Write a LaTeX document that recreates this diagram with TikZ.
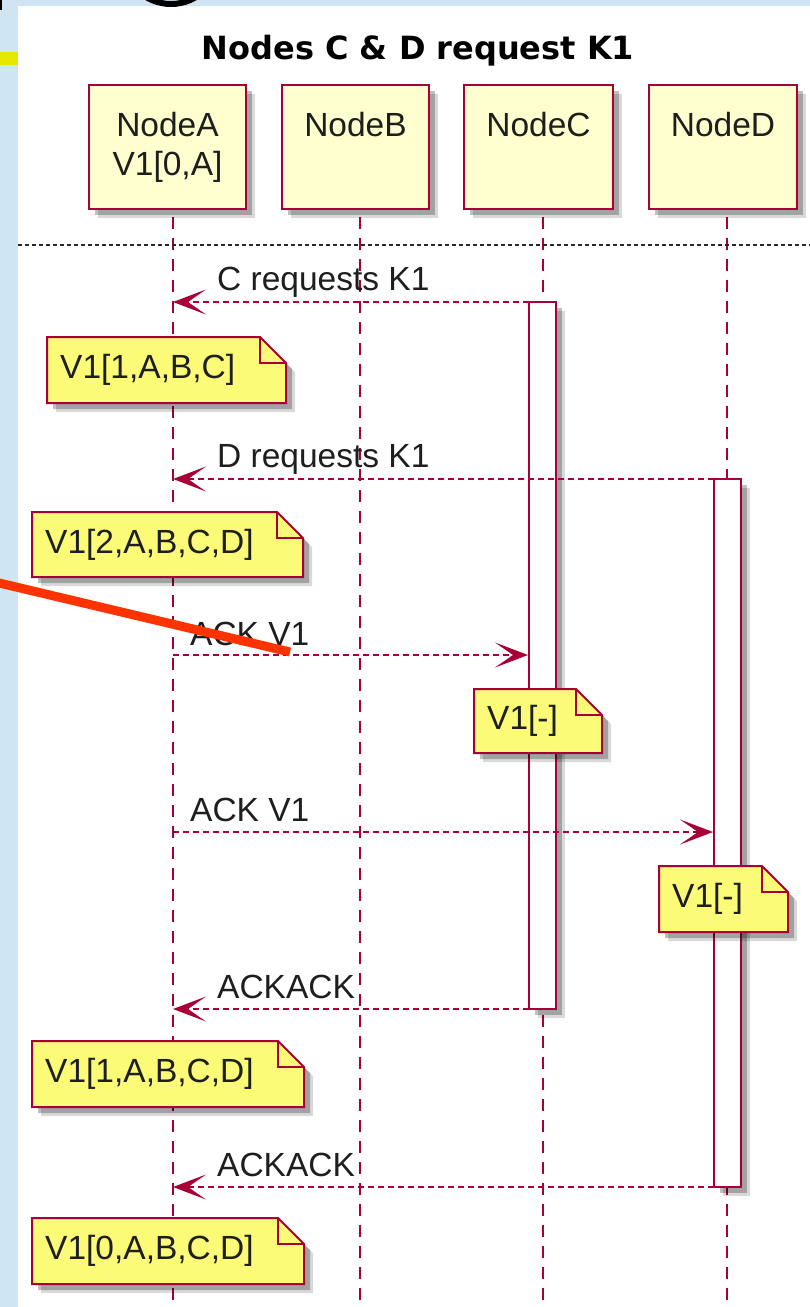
\documentclass[tikz,border=0pt]{standalone}
\usepackage{fontspec}
\setmainfont{Liberation Sans}
\newfontfamily\titlefont{DejaVu Sans}
\usetikzlibrary{arrows.meta,shadows}
\definecolor{frameblue}{RGB}{207,229,243}
\definecolor{umlred}{HTML}{A80036}
\definecolor{partfill}{HTML}{FEFECE}
\definecolor{notefill}{HTML}{FBFB77}
\definecolor{hlyellow}{RGB}{230,230,0}
\definecolor{penred}{RGB}{255,51,0}
\definecolor{txt}{RGB}{30,30,30}
\tikzset{
  softshadow/.style={drop shadow={shadow xshift=9pt,shadow yshift=-9pt,opacity=.15,fill=black},
                     drop shadow={shadow xshift=6pt,shadow yshift=-6pt,opacity=.25,fill=black}},
  partbox/.style={draw=umlred, line width=2.5pt, fill=partfill, minimum width=#1, minimum height=124pt,
                  align=center, inner sep=0pt, text=txt, font=\fontsize{33.5}{39}\selectfont, softshadow},
  lifeline/.style={draw=umlred, line width=2.2pt, dash pattern=on 12pt off 9pt},
  actbar/.style={draw=umlred, line width=2.2pt, fill=white, minimum width=27pt, minimum height=#1, inner sep=0pt, softshadow},
  msg/.style={draw=umlred, line width=2pt, dash pattern=on 6pt off 4pt,
              -{Stealth[length=33pt,width=25pt,inset=18pt]}},
  lbl/.style={inner sep=0pt, text=txt, font=\fontsize{33.5}{39}\selectfont, anchor=base west},
  noteline/.style={draw=umlred, line width=2pt, line join=miter},
  notetext/.style={inner sep=0pt, text=txt, font=\fontsize{33.5}{39}\selectfont, anchor=west},
}
% #1 name, #2 x1, #3 y1, #4 x2, #5 y2, #6 text
\newcommand\dognote[6]{%
  \fill[black,opacity=.15] ({#2+9},{#3+9}) -- ({#4-26+9},{#3+9}) -- ({#4+9},{#3+26+9}) -- ({#4+9},{#5+9}) -- ({#2+9},{#5+9}) -- cycle;
  \fill[black,opacity=.25] ({#2+6},{#3+6}) -- ({#4-26+6},{#3+6}) -- ({#4+6},{#3+26+6}) -- ({#4+6},{#5+6}) -- ({#2+6},{#5+6}) -- cycle;
  \draw[noteline, fill=notefill] (#2,#3) -- ({#4-26},#3) -- (#4,{#3+26}) -- (#4,#5) -- (#2,#5) -- cycle;
  \draw[noteline] ({#4-26},#3) -- ({#4-26},{#3+26}) -- (#4,{#3+26});
  \node[notetext] (#1) at ({#2+13},{(#3+#5)/2}) {#6};
}
\begin{document}
\begin{tikzpicture}[x=1pt,y=-1pt]
\useasboundingbox (0,0) rectangle (810,1307);
% screenshot frame
\fill[frameblue] (0,0) rectangle (810,1307);
\fill[white] (18,6) rectangle (810,1307);
\begin{scope}
  \clip (0,0) rectangle (810,6);
  \draw[black, line width=6pt] (171,-44) circle (48);
\end{scope}
\fill[black] (0,0) rectangle (2,10);

% title
\node[font=\titlefont\bfseries\fontsize{32}{36}\selectfont, text=black, inner sep=0pt, anchor=base] (title) at (418,59) {Nodes C \& D request K1};

% lifelines
\coordinate (lAt) at (173,217); \coordinate (lAb) at (173,1310);
\coordinate (lBt) at (360,217); \coordinate (lBb) at (360,1310);
\coordinate (lCt) at (543,217); \coordinate (lCb) at (543,1310);
\coordinate (lDt) at (727,217); \coordinate (lDb) at (727,1310);
\draw[lifeline] (lAt) -- (lAb);
\draw[lifeline] (lBt) -- (lBb);
\draw[lifeline] (lCt) -- (lCb);
\draw[lifeline] (lDt) -- (lDb);

% divider
\draw[black!85, line width=1.5pt, dash pattern=on 4pt off 3pt] (18,245) -- (810,245);

% participants
\node[partbox=157pt] (pA) at (167.5,147) {NodeA\\V1[0,A]};
\node[partbox=147pt] (pB) at (355.5,147) {NodeB\\\phantom{V1[0,A]}};
\node[partbox=149pt] (pC) at (538.5,147) {NodeC\\\phantom{V1[0,A]}};
\node[partbox=148pt] (pD) at (723,147) {NodeD\\\phantom{V1[0,A]}};

% activation bars
\node[actbar=707pt] (bC) at (542.5,655.5) {};
\node[actbar=708pt] (bD) at (727.5,833) {};

% message end points
\coordinate (m1s) at (529,302);  \coordinate (m1e) at (173,302);
\coordinate (m2s) at (714,479);  \coordinate (m2e) at (173,479);
\coordinate (m3s) at (173,655);  \coordinate (m3e) at (528,655);
\coordinate (m4s) at (173,832);  \coordinate (m4e) at (713,832);
\coordinate (m5s) at (529,1009); \coordinate (m5e) at (173,1009);
\coordinate (m6s) at (714,1187); \coordinate (m6e) at (173,1187);

\draw[msg] (m1s) -- (m1e);
\node[lbl] (l1) at (217,290) {C requests K1};
\dognote{n1}{47}{337}{286}{403}{V1[1,A,B,C]}

\draw[msg] (m2s) -- (m2e);
\node[lbl] (l2) at (217,467) {D requests K1};
\dognote{n2}{32}{512}{303}{577}{V1[2,A,B,C,D]}

\draw[msg] (m3s) -- (m3e);
\node[lbl] (l3) at (190,645) {ACK V1};
\dognote{n3}{474}{689}{602}{753}{V1[-]}

\draw[msg] (m4s) -- (m4e);
\node[lbl] (l4) at (190,821) {ACK V1};
\dognote{n4}{659}{866}{788}{932}{V1[-]}

\draw[msg] (m5s) -- (m5e);
\node[lbl] (l5) at (217,998) {ACKACK};
\dognote{n5}{32}{1041}{304}{1107}{V1[1,A,B,C,D]}

\draw[msg] (m6s) -- (m6e);
\node[lbl] (l6) at (217,1176) {ACKACK};
\dognote{n6}{32}{1218}{304}{1284}{V1[0,A,B,C,D]}

% annotations on the screenshot
\fill[hlyellow] (0,52) rectangle (18,65);
\draw[penred, line width=9pt] (-5,582) -- (290,652);
\end{tikzpicture}
\end{document}
